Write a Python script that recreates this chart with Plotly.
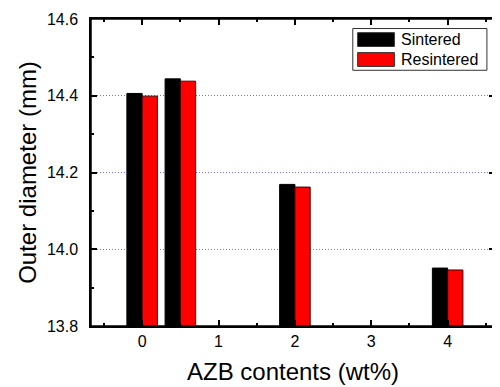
import plotly.graph_objects as go

x_vals = [0, 0.5, 2, 4]
sintered = [14.406, 14.444, 14.169, 13.951]
resintered = [14.399, 14.438, 14.162, 13.946]
series_names = ["Sintered", "Resintered"]
series_colors = ["#000000", "#ff0000"]

FONT = "Liberation Sans"

fig = go.Figure()
fig.add_trace(go.Bar(x=x_vals, y=sintered, name=series_names[0], width=0.2, offset=-0.2,
                     marker=dict(color=series_colors[0], line=dict(color="#000000", width=1)),
                     showlegend=False))
fig.add_trace(go.Bar(x=x_vals, y=resintered, name=series_names[1], width=0.2, offset=0,
                     marker=dict(color=series_colors[1], line=dict(color="#400000", width=1)),
                     showlegend=False))

fig.update_xaxes(range=[-0.67, 4.62], tickmode="linear", tick0=0, dtick=1,
                 showgrid=False, showline=True, linecolor="black", linewidth=1.5, mirror="allticks",
                 ticks="inside", ticklen=6, tickwidth=1.5, tickcolor="black",
                 ticklabelstandoff=0,
                 tickfont=dict(family=FONT, size=16, color="black"), zeroline=False,
                 minor=dict(dtick=0.5, tick0=0, ticks="inside", ticklen=3, tickcolor="black"),
                 title=dict(text="AZB contents (wt%)", font=dict(family=FONT, size=24, color="black"),
                            standoff=14))
fig.update_yaxes(range=[13.8, 14.6], tickmode="linear", tick0=13.8, dtick=0.2, tickformat=".1f",
                 showgrid=True, gridcolor="#7070ff", griddash="1px,2px", gridwidth=1,
                 showline=True, linecolor="black", linewidth=1.5, mirror="allticks",
                 ticks="inside", ticklen=6, tickwidth=1.5, tickcolor="black",
                 ticklabelstandoff=8, ticklabeloverflow="allow",
                 tickfont=dict(family=FONT, size=16, color="black"), zeroline=False,
                 minor=dict(dtick=0.1, tick0=13.8, ticks="inside", ticklen=3, tickcolor="black", showgrid=False),
                 title=dict(text="Outer diameter (mm)", font=dict(family=FONT, size=24, color="black"),
                            standoff=4))

# plot frame + custom legend (large swatches like the original)
shapes = [dict(type="rect", xref="paper", yref="paper", x0=0, x1=1, y0=0, y1=1,
               line=dict(color="black", width=1.5), layer="above"),
          dict(type="rect", xref="paper", yref="paper", x0=0.648, x1=0.980, y0=0.833, y1=0.969,
               line=dict(color="#333333", width=1), fillcolor="white")]
annotations = []
legend_rows = [(0.933, series_names[0], series_colors[0]), (0.868, series_names[1], series_colors[1])]
for yc, name, col in legend_rows:
    shapes.append(dict(type="rect", xref="paper", yref="paper", x0=0.660, x1=0.751,
                       y0=yc - 0.0225, y1=yc + 0.0225, fillcolor=col,
                       line=dict(color="#333333", width=1)))
    annotations.append(dict(xref="paper", yref="paper", x=0.763, y=yc, text=name, showarrow=False,
                            xanchor="left", yanchor="middle",
                            font=dict(family=FONT, size=16, color="black")))

# figure sized to sit inside the page's default 8px body margin
fig.update_layout(width=492, height=379, margin=dict(l=83, r=3, t=10, b=61),
                  plot_bgcolor="white", paper_bgcolor="white", barmode="overlay",
                  shapes=shapes, annotations=annotations,
                  font=dict(family=FONT, color="black"))

fig.write_html("out.html")
